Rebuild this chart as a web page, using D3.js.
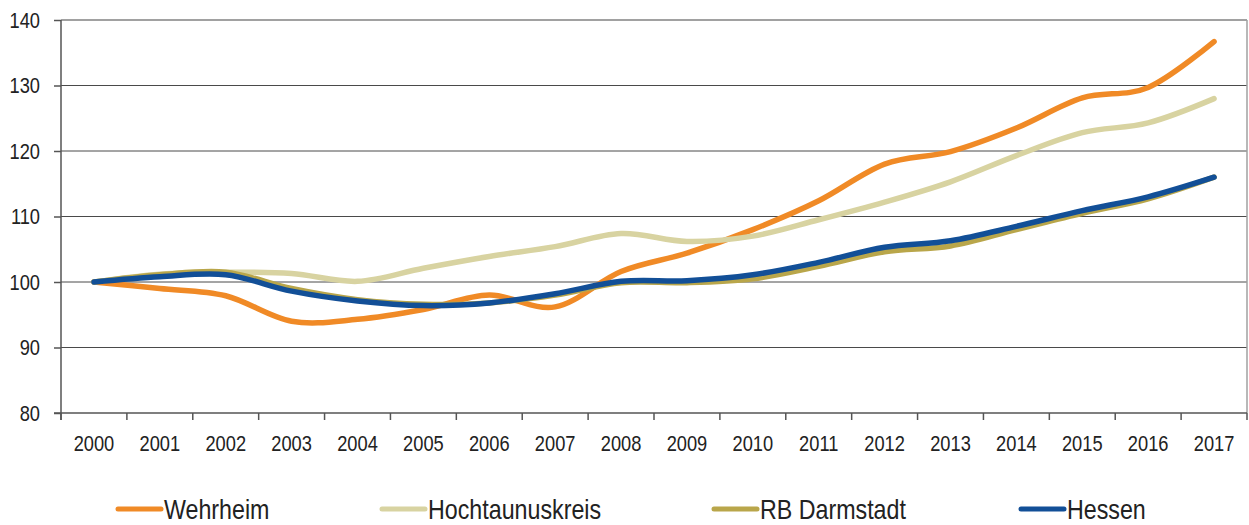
<!DOCTYPE html>
<html><head><meta charset="utf-8">
<script src="https://cdn.jsdelivr.net/npm/d3@7"></script>
<style>
html,body{margin:0;padding:0;background:#fff;}
svg{display:block;}
</style></head>
<body>
<svg id="chart" width="1249" height="525"></svg>
<script>
const years = ["2000","2001","2002","2003","2004","2005","2006","2007","2008","2009","2010","2011","2012","2013","2014","2015","2016","2017"];
const wehrheim    = [100, 99.0, 97.9, 94.0, 94.3, 95.8, 98.0, 96.2, 101.6, 104.4, 108.0, 112.4, 118.0, 119.9, 123.5, 128.1, 129.7, 136.7];
const hochtaunus  = [100, 101.2, 101.5, 101.3, 100.1, 102.1, 103.9, 105.4, 107.4, 106.2, 107.0, 109.5, 112.2, 115.3, 119.3, 122.8, 124.3, 128.0];
const rbDarmstadt = [100, 101.1, 101.5, 99.0, 97.3, 96.6, 96.8, 98.0, 99.9, 99.9, 100.5, 102.4, 104.6, 105.5, 108.0, 110.5, 112.7, 116.0];
const hessen      = [100, 100.8, 101.1, 98.6, 97.1, 96.4, 96.8, 98.2, 100.1, 100.2, 101.1, 103.0, 105.3, 106.3, 108.5, 110.9, 113.0, 116.0];
const seriesNames = ["Wehrheim","Hochtaunuskreis","RB Darmstadt","Hessen"];
const yTicks = [80, 90, 100, 110, 120, 130, 140];

const colors = ["#F08A26","#D8D3A1","#B9A64A","#124F97"];
const seriesData = [wehrheim, hochtaunus, rbDarmstadt, hessen];

const svg = d3.select("#chart");
const L = 61, R = 1247, T = 20, B = 413;
const FONT = "'Liberation Sans Narrow','Arial Narrow','Liberation Sans',Arial,sans-serif";

const x = d3.scaleBand().domain(years).range([L, R]).padding(0);
const y = d3.scaleLinear().domain([80, 140]).range([B, T]);
const cx = d => x(d) + x.bandwidth() / 2;

// gridlines
svg.append("g").selectAll("line").data(yTicks.filter(v => v > 80)).join("line")
  .attr("x1", L).attr("x2", R)
  .attr("y1", d => y(d)).attr("y2", d => y(d))
  .attr("stroke", "#4a4a4a").attr("stroke-width", 1);

// plot border top/right
svg.append("line").attr("x1", L).attr("x2", R).attr("y1", T).attr("y2", T).attr("stroke", "#a0a0a0").attr("stroke-width", 1.5);
svg.append("line").attr("x1", R).attr("x2", R).attr("y1", T).attr("y2", B).attr("stroke", "#a0a0a0").attr("stroke-width", 1.5);

// y axis
const yAxis = svg.append("g").attr("transform", `translate(${L},0)`)
  .call(d3.axisLeft(y).tickValues(yTicks).tickSize(7).tickPadding(14).tickSizeOuter(0));
yAxis.select(".domain").attr("stroke", "#555").attr("stroke-width", 1.5).attr("d", `M0,${T}V${B+7}`);
yAxis.selectAll(".tick line").attr("stroke", "#555").attr("stroke-width", 1.5);
yAxis.selectAll("text").attr("font-family", FONT).attr("font-size", 22).attr("fill", "#222");

// x axis
const xAxis = svg.append("g").attr("transform", `translate(0,${B})`)
  .call(d3.axisBottom(x).tickSize(0).tickPadding(22).tickSizeOuter(0));
xAxis.select(".domain").attr("stroke", "#555").attr("stroke-width", 1.5).attr("d", `M${L-7},0H${R}`);
xAxis.selectAll("text").attr("font-family", FONT).attr("font-size", 22).attr("fill", "#222");
// boundary ticks
const bounds = years.map(d => x(d)).concat([x(years[years.length-1]) + x.bandwidth()]);
xAxis.append("g").selectAll("line").data(bounds).join("line")
  .attr("x1", d => d).attr("x2", d => d).attr("y1", 0).attr("y2", 7)
  .attr("stroke", "#555").attr("stroke-width", 1.5);

// lines
const line = d3.line().x((d, i) => cx(years[i])).y(d => y(d)).curve(d3.curveCardinal.tension(0));
svg.append("g").selectAll("path").data(seriesData).join("path")
  .attr("d", d => line(d))
  .attr("fill", "none")
  .attr("stroke", (d, i) => colors[i])
  .attr("stroke-width", 5.5)
  .attr("stroke-linecap", "round")
  .attr("stroke-linejoin", "round");

// legend
const legX = [118, 382, 714, 1021];
const legY = 509;
const leg = svg.append("g").selectAll("g").data(seriesNames).join("g")
  .attr("transform", (d, i) => `translate(${legX[i]},${legY})`);
leg.append("line").attr("x1", 0).attr("x2", 43).attr("y1", 0).attr("y2", 0)
  .attr("stroke", (d, i) => colors[i]).attr("stroke-width", 5).attr("stroke-linecap", "round");
leg.append("text").attr("x", 46).attr("y", 0).attr("dy", "0.36em")
  .attr("font-family", FONT).attr("font-size", 28).attr("fill", "#222")
  .text(d => d);

// If no narrow font is present, condense the regular face horizontally
(function(){
  const probe = svg.append("text").attr("font-size", 28).text("Wehrheim");
  probe.attr("font-family", FONT);
  const w1 = probe.node().getComputedTextLength();
  probe.attr("font-family", "'Liberation Sans',Arial,sans-serif");
  const w2 = probe.node().getComputedTextLength();
  probe.remove();
  if (Math.abs(w1 - w2) < 0.5) {
    svg.selectAll("text").each(function(){
      const t = d3.select(this);
      const w = this.getComputedTextLength();
      t.attr("textLength", w * 0.83).attr("lengthAdjust", "spacingAndGlyphs");
      const anchor = t.attr("text-anchor") || (this.parentNode && d3.select(this.parentNode).attr("text-anchor")) || "start";
      if (anchor === "end") {
        t.attr("dx", null);
      }
    });
  }
})();
</script>
</body></html>
